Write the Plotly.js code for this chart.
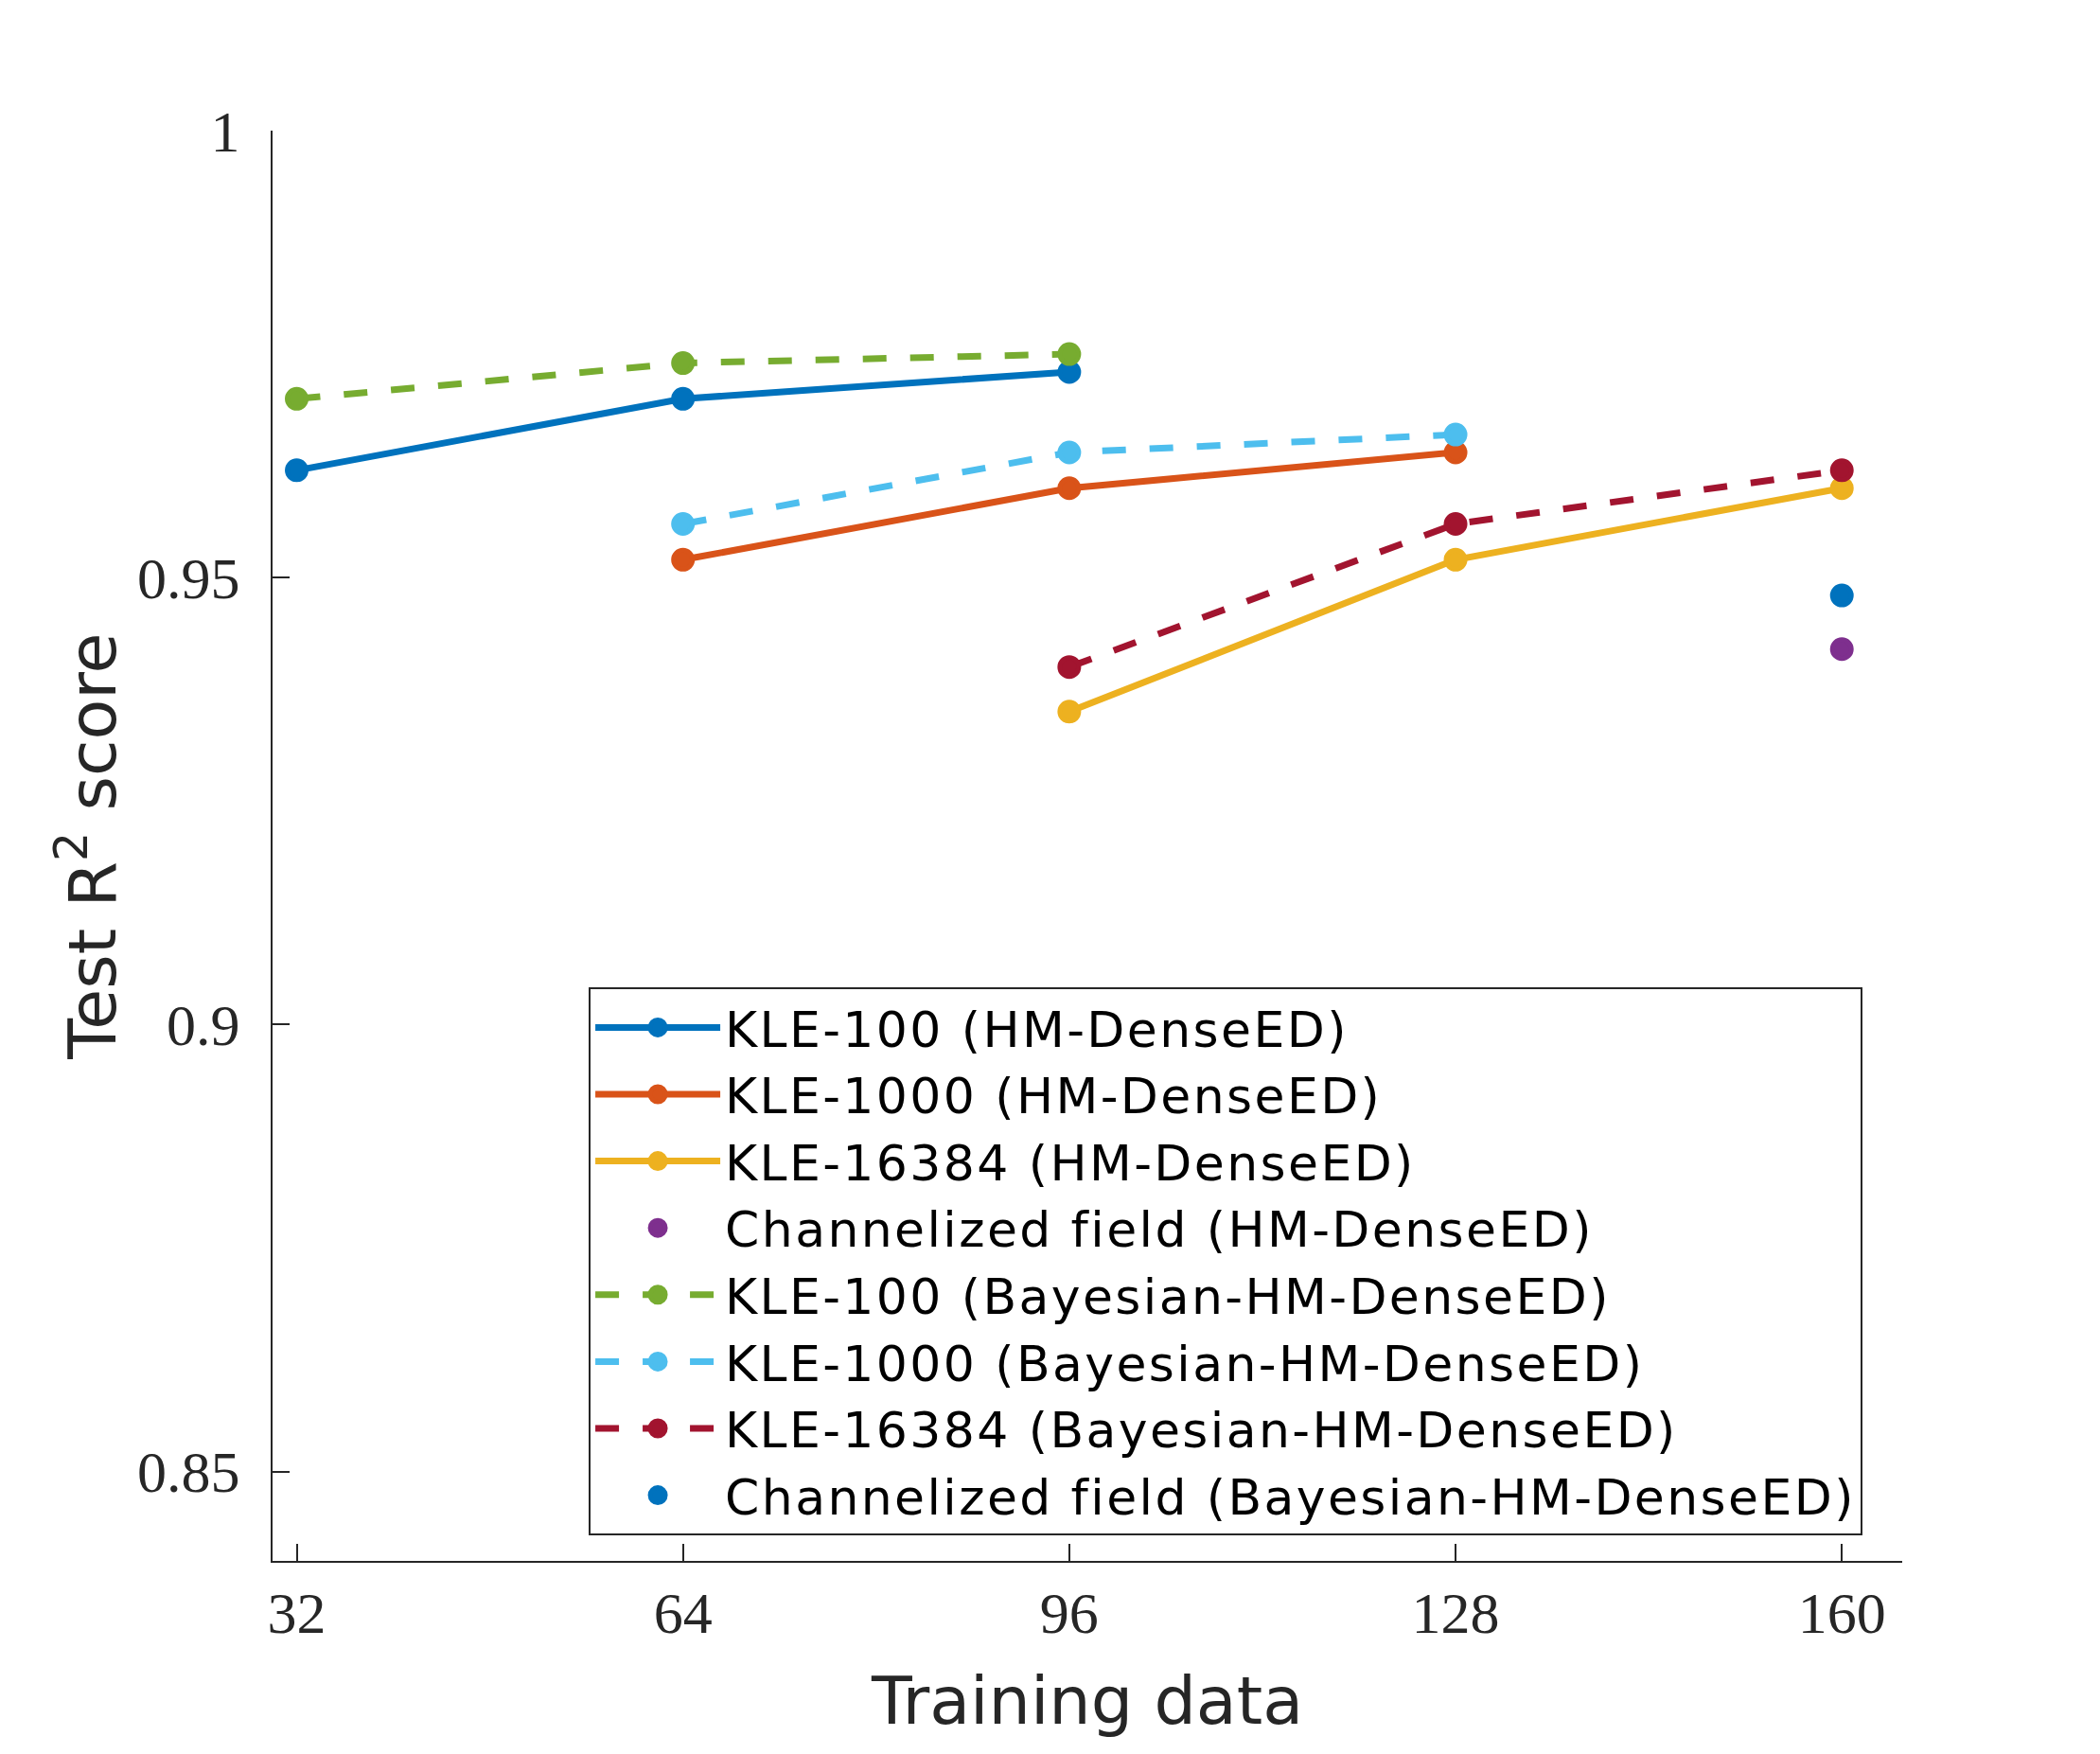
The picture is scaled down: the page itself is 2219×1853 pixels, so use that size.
<!DOCTYPE html>
<html>
<head>
<meta charset="utf-8">
<script src="https://cdn.plot.ly/plotly-3.0.1.min.js"></script>
<style>
  html, body { margin: 0; padding: 0; background: #fff; }
  #chart { width: 2219px; height: 1853px; }
  /* matlab legend text runs a bit wider than DejaVu at this row height */
  .legendtext { letter-spacing: 2.4px; }
</style>
</head>
<body>
<div id="chart"></div>
<script>
// training set sizes on the x axis
var xTicks = [32, 64, 96, 128, 160];
var yTicks = [0.85, 0.9, 0.95, 1];
var yTickText = ['0.85', '0.9', '0.95', '1'];

// HM-DenseED
var kle100HmX = [32, 64, 96];
var kle100HmY = [0.962, 0.970, 0.973];
var kle1000HmX = [64, 96, 128];
var kle1000HmY = [0.952, 0.960, 0.964];
var kle16384HmX = [96, 128, 160];
var kle16384HmY = [0.935, 0.952, 0.960];
var chanHmX = [160];
var chanHmY = [0.942];

// Bayesian-HM-DenseED
var kle100BayX = [32, 64, 96];
var kle100BayY = [0.970, 0.974, 0.975];
var kle1000BayX = [64, 96, 128];
var kle1000BayY = [0.956, 0.964, 0.966];
var kle16384BayX = [96, 128, 160];
var kle16384BayY = [0.940, 0.956, 0.962];
var chanBayX = [160];
var chanBayY = [0.948];

var names = [
  'KLE-100 (HM-DenseED)',
  'KLE-1000 (HM-DenseED)',
  'KLE-16384 (HM-DenseED)',
  'Channelized field (HM-DenseED)',
  'KLE-100 (Bayesian-HM-DenseED)',
  'KLE-1000 (Bayesian-HM-DenseED)',
  'KLE-16384 (Bayesian-HM-DenseED)',
  'Channelized field (Bayesian-HM-DenseED)'
];

// matlab default colour order
var colors = ['#0072BD', '#D95319', '#EDB120', '#7E2F8E', '#77AC30', '#4DBEEE', '#A2142F', '#0072BD'];

var lw = 7;
var ms = 20;      // plus a 5px outline in the same colour -> 25px dots
var dashed = '25px,25px';

function series(x, y, i, mode, dash) {
  var t = {
    x: x,
    y: y,
    name: names[i],
    type: 'scatter',
    mode: mode,
    cliponaxis: false,
    marker: { color: colors[i], size: ms, line: { width: 5, color: colors[i] } }
  };
  if (mode !== 'markers') {
    t.line = { color: colors[i], width: lw, dash: dash };
  }
  return t;
}

var data = [
  series(kle100HmX, kle100HmY, 0, 'lines+markers', 'solid'),
  series(kle1000HmX, kle1000HmY, 1, 'lines+markers', 'solid'),
  series(kle16384HmX, kle16384HmY, 2, 'lines+markers', 'solid'),
  series(chanHmX, chanHmY, 3, 'markers'),
  series(kle100BayX, kle100BayY, 4, 'lines+markers', dashed),
  series(kle1000BayX, kle1000BayY, 5, 'lines+markers', dashed),
  series(kle16384BayX, kle16384BayY, 6, 'lines+markers', dashed),
  series(chanBayX, chanBayY, 7, 'markers')
];

var axisColor = '#262626';
var tickFont = { family: '"Liberation Serif", "DejaVu Serif", serif', size: 62, color: axisColor };
var titleFont = { family: '"DejaVu Sans", sans-serif', size: 70, color: axisColor };

var layout = {
  width: 2219,
  height: 1853,
  paper_bgcolor: '#fff',
  plot_bgcolor: '#fff',
  margin: { l: 288, r: 209, t: 138, b: 204, pad: 0 },
  showlegend: true,
  xaxis: {
    range: [30, 165],
    tickvals: xTicks,
    ticktext: xTicks.map(String),
    ticks: 'inside',
    ticklen: 18,
    tickwidth: 2,
    tickcolor: axisColor,
    ticklabelstandoff: 0,
    showline: true,
    linecolor: axisColor,
    linewidth: 2,
    showgrid: false,
    zeroline: false,
    tickfont: tickFont,
    title: { text: 'Training data', font: titleFont, standoff: 35 }
  },
  yaxis: {
    range: [0.84, 1],
    tickvals: yTicks,
    ticktext: yTickText,
    ticks: 'inside',
    ticklen: 18,
    tickwidth: 2,
    tickcolor: axisColor,
    ticklabelstandoff: 20,
    showline: true,
    linecolor: axisColor,
    linewidth: 2,
    showgrid: false,
    zeroline: false,
    tickfont: tickFont,
    title: { text: 'Test R<sup>2</sup> score', font: titleFont, standoff: 0 }
  },
  legend: {
    x: 0.194,
    y: 0.401,
    xanchor: 'left',
    yanchor: 'top',
    bgcolor: '#fff',
    bordercolor: axisColor,
    borderwidth: 2,
    itemwidth: 132,
    tracegroupgap: 0,
    font: { family: '"DejaVu Sans", sans-serif', size: 52, color: '#000' }
  }
};

Plotly.newPlot('chart', data, layout, { displayModeBar: false, staticPlot: true });
</script>
</body>
</html>
